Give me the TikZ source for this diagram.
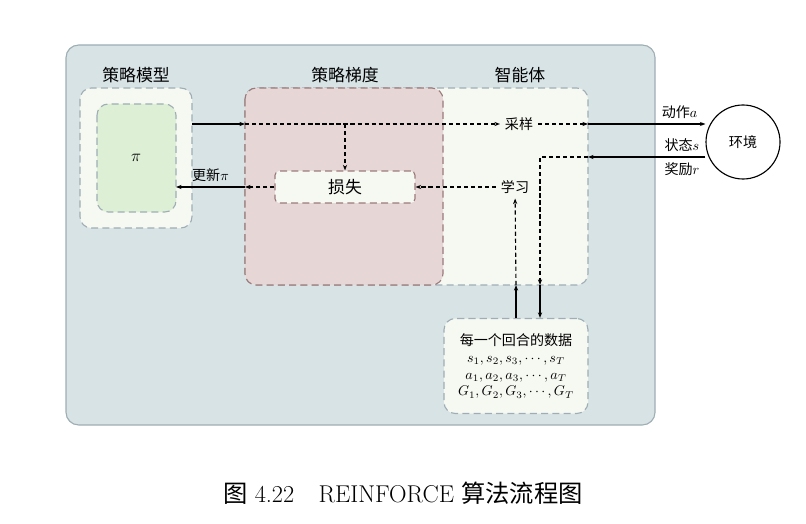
\documentclass[tikz,border=0pt]{standalone}
\usepackage{fontspec}
\newfontfamily\cjk{Noto Sans CJK SC}
\usetikzlibrary{arrows.meta, positioning}
\definecolor{bgblue}{HTML}{D8E3E6}
\definecolor{bgline}{HTML}{9FAEB5}
\definecolor{paper}{HTML}{F6F8F2}
\definecolor{leaf}{HTML}{DDEFD5}
\definecolor{rose}{HTML}{E6D6D5}
\definecolor{roseline}{HTML}{9B7B7B}
\begin{document}
\begin{tikzpicture}[x=0.025cm, y=-0.025cm,
        % Style for the dashed rounded panels
        panel/.style={draw=bgline, thick, dash pattern=on 5pt off 3pt, rounded corners=8pt},
        % Style for the titles above the panels
        title/.style={font=\cjk\large},
        lbl/.style={font=\cjk\normalsize},
        tip/.style={-{Stealth[length=4pt, width=3pt]}},
        flow/.style={tip, thick},
        dflow/.style={tip, thick, dash pattern=on 3pt off 2pt}
    ]
    \useasboundingbox (0,0) rectangle (806,524);

    % --- Background frame ---
    \draw[bgline, fill=bgblue, thick, rounded corners=9pt] (66,45) rectangle (655,425);

    % --- Policy model ---
    \draw[panel, fill=paper] (80,88) rectangle (192,228);
    \draw[panel, fill=leaf] (97,104) rectangle (176,212);
    \node[font=\large] (pi) at (136,158) {$\pi$};
    \node[title] at (136,75) {策略模型};

    % --- Agent and policy gradient ---
    \draw[panel, fill=paper] (245,88) rectangle (588,285);
    \draw[panel, draw=roseline, fill=rose] (245,88) rectangle (443,285);
    \node[title] at (345,75) {策略梯度};
    \node[title] at (520,75) {智能体};
    \node[panel, draw=roseline, fill=paper, rounded corners=3pt, minimum width=140*0.025cm, minimum height=32*0.025cm, font=\cjk\large] (loss) at (345,187) {损失};
    \node[lbl, fill=paper] (sample) at (519,124) {采样};
    \node[lbl, fill=paper] (learn) at (515,187) {学习};

    % --- Environment ---
    \node[draw, thick, circle, minimum size=74*0.025cm, font=\cjk\normalsize] (env) at (743,142) {环境};

    % --- Episode data ---
    \node[panel, fill=paper, minimum width=144*0.025cm, minimum height=95*0.025cm, align=center, inner sep=2pt] (data) at (516,366)
        {{\cjk 每一个回合的数据}\\ $s_1,s_2,s_3,\cdots,s_T$\\ $a_1,a_2,a_3,\cdots,a_T$\\ $G_1,G_2,G_3,\cdots,G_T$};

    % --- Connectors ---
    \coordinate (pgIn) at (245,124);
    \coordinate (agOut) at (588,124);
    \coordinate (agIn) at (588,157);
    \coordinate (turn) at (540,157);
    \coordinate (agDown) at (540,285);
    \coordinate (agUp) at (516,285);
    \coordinate (pgOut) at (245,187);
    \coordinate (piIn) at (176,187);
    \coordinate (tap) at (345,124);

    \draw[flow] (192,124) -- (pgIn);
    \draw[dflow] (pgIn) -- (sample);
    \draw[dflow] (sample) -- (agOut);
    \draw[flow] (agOut) -- (env.west |- agOut) node[pos=0.78, above, lbl] {动作$a$};
    \draw[dflow] (tap) -- (loss);
    \draw[flow] (env.west |- agIn) -- (agIn)
        node[pos=0.2, above, lbl] {状态$s$} node[pos=0.2, below, lbl] {奖励$r$};
    \draw[dflow] (agIn) -- (turn) -- (agDown);
    \draw[flow] (agDown) -- (data.north -| agDown);
    \draw[flow] (data.north -| agUp) -- (agUp);
    \draw[dflow] (agUp) -- (learn);
    \draw[dflow] (learn) -- (loss);
    \draw[dflow] (loss) -- (pgOut);
    \draw[flow] (pgOut) -- (piIn) node[midway, above, lbl] {更新$\pi$};

    % --- Caption ---
    \node[font=\LARGE] at (403,493) {{\cjk 图}\ 4.22\quad REINFORCE {\cjk 算法流程图}};
\end{tikzpicture}
\end{document}
